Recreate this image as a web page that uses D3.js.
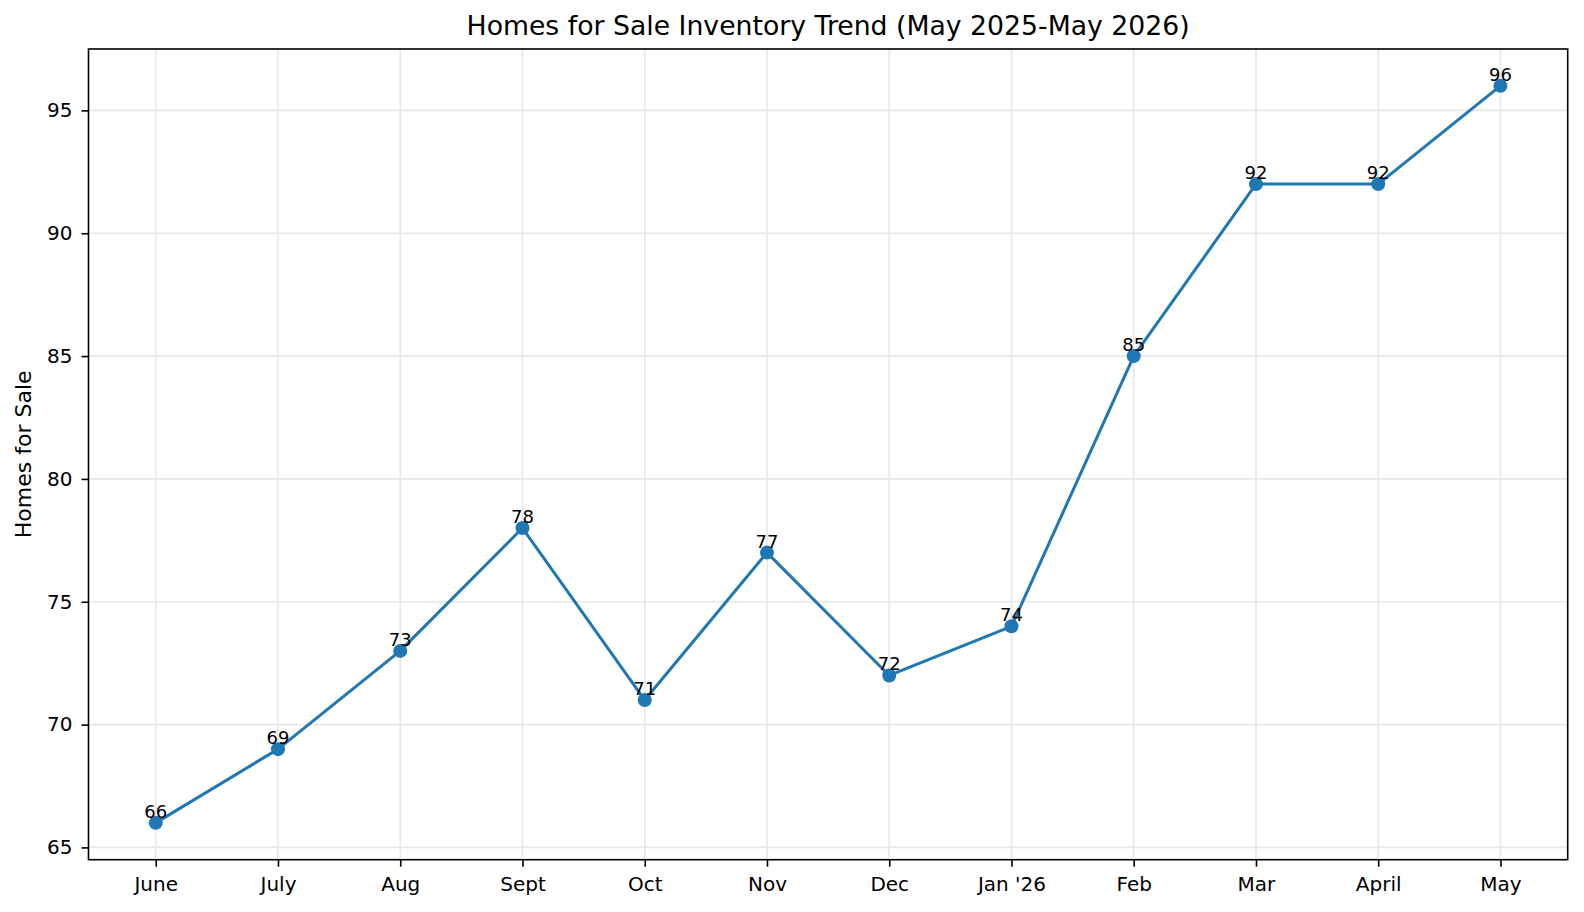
<!DOCTYPE html>
<html>
<head>
<meta charset="utf-8">
<script src="https://cdn.jsdelivr.net/npm/d3@7"></script>
<style>
  html, body { margin: 0; padding: 0; background: #fff; }
  svg { display: block; font-family: "DejaVu Sans", sans-serif; }
</style>
</head>
<body>
<svg id="chart" width="1584" height="912"></svg>
<script>
const months = ["June", "July", "Aug", "Sept", "Oct", "Nov", "Dec", "Jan '26", "Feb", "Mar", "April", "May"];
const homes = [66, 69, 73, 78, 71, 77, 72, 74, 85, 92, 92, 96];
const yTicks = [65, 70, 75, 80, 85, 90, 95];
const titleText = "Homes for Sale Inventory Trend (May 2025-May 2026)";
const yLabelText = "Homes for Sale";

(function () {
const svg = d3.select("#chart");
const pLeft = 88.5, pRight = 1567.7, pTop = 49, pBottom = 859.7;

const n = months.length;
const x = d3.scaleLinear().domain([-0.55, n - 1 + 0.55]).range([pLeft, pRight]);
const yMin = d3.min(homes), yMax = d3.max(homes), pad = (yMax - yMin) * 0.05;
const y = d3.scaleLinear().domain([yMin - pad, yMax + pad]).range([pBottom, pTop]);

const gridColor = "#e7e7e7";
svg.append("g").selectAll("line").data(d3.range(n)).join("line")
  .attr("x1", d => x(d)).attr("x2", d => x(d))
  .attr("y1", pTop).attr("y2", pBottom)
  .attr("stroke", gridColor).attr("stroke-width", 1.6);
svg.append("g").selectAll("line").data(yTicks).join("line")
  .attr("x1", pLeft).attr("x2", pRight)
  .attr("y1", d => y(d)).attr("y2", d => y(d))
  .attr("stroke", gridColor).attr("stroke-width", 1.6);

const xAxis = d3.axisBottom(x).tickValues(d3.range(n)).tickFormat(i => months[i])
  .tickSizeInner(7).tickSizeOuter(0).tickPadding(10.5);
const gx = svg.append("g").attr("transform", `translate(0,${pBottom})`).call(xAxis);
gx.select(".domain").remove();
gx.selectAll(".tick line").attr("stroke", "#000").attr("stroke-width", 1.6);
gx.selectAll(".tick text").attr("font-size", 20).attr("fill", "#000")
  .attr("font-family", "DejaVu Sans");

const yAxis = d3.axisLeft(y).tickValues(yTicks).tickFormat(d3.format("d"))
  .tickSizeInner(7).tickSizeOuter(0).tickPadding(9);
const gy = svg.append("g").attr("transform", `translate(${pLeft},0)`).call(yAxis);
gy.select(".domain").remove();
gy.selectAll(".tick line").attr("stroke", "#000").attr("stroke-width", 1.6);
gy.selectAll(".tick text").attr("font-size", 20).attr("fill", "#000")
  .attr("font-family", "DejaVu Sans");

svg.append("rect").attr("x", pLeft).attr("y", pTop)
  .attr("width", pRight - pLeft).attr("height", pBottom - pTop)
  .attr("fill", "none").attr("stroke", "#000").attr("stroke-width", 1.6);

const line = d3.line().x((d, i) => x(i)).y(d => y(d));
svg.append("path").datum(homes).attr("d", line)
  .attr("fill", "none").attr("stroke", "#1f77b4").attr("stroke-width", 3)
  .attr("stroke-linejoin", "round").attr("stroke-linecap", "square");

svg.append("g").selectAll("circle").data(homes).join("circle")
  .attr("cx", (d, i) => x(i)).attr("cy", d => y(d)).attr("r", 7)
  .attr("fill", "#1f77b4");

svg.append("g").selectAll("text").data(homes).join("text")
  .attr("x", (d, i) => x(i)).attr("y", d => y(d) - 5)
  .attr("text-anchor", "middle").attr("font-size", 18).attr("fill", "#000")
  .text(d => d);

svg.append("text").attr("x", (pLeft + pRight) / 2).attr("y", 34.5)
  .attr("text-anchor", "middle").attr("font-size", 26.7).attr("fill", "#000")
  .text(titleText);

svg.append("text").attr("transform", `translate(31,${(pTop + pBottom) / 2}) rotate(-90)`)
  .attr("text-anchor", "middle").attr("font-size", 22).attr("fill", "#000")
  .text(yLabelText);
})();
</script>
</body>
</html>
